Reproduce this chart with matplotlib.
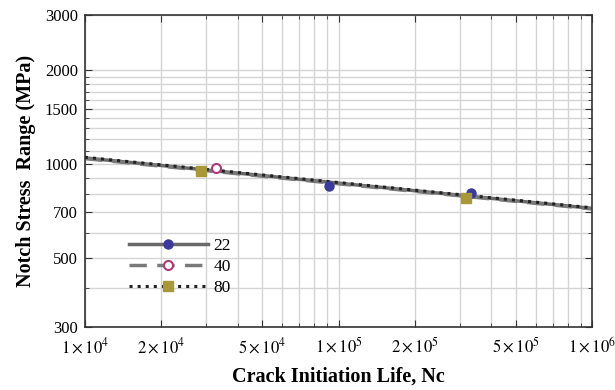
import matplotlib
matplotlib.use("Agg")
import matplotlib.pyplot as plt
from matplotlib.ticker import FixedLocator, FixedFormatter, NullFormatter
from matplotlib.lines import Line2D

# fitted S-N lines (start / end of plotted range)
fit_life = [1e4, 1e6]
fit_22 = [1045, 720]
fit_40 = [1040, 717]
fit_80 = [1050, 723]

# test points
life_22 = [91700, 333000]
stress_22 = [852, 804]
life_40 = [32900]
stress_40 = [970]
life_80 = [28700, 318000]
stress_80 = [948, 775]

x_major = [1e4, 2e4, 5e4, 1e5, 2e5, 5e5, 1e6]
x_labels = [r"$1\times10^{4}$", r"$2\times10^{4}$", r"$5\times10^{4}$",
            r"$1\times10^{5}$", r"$2\times10^{5}$", r"$5\times10^{5}$",
            r"$1\times10^{6}$"]
x_minor = [3e4, 4e4, 6e4, 7e4, 8e4, 9e4, 3e5, 4e5, 6e5, 7e5, 8e5, 9e5]
y_major = [300, 500, 700, 1000, 1500, 2000, 3000]
y_minor = [400, 600, 800, 900, 1100, 1200, 1300, 1400,
           1600, 1700, 1800, 1900]

plt.rcParams['font.family'] = ['Liberation Serif', 'DejaVu Serif']
plt.rcParams['mathtext.fontset'] = 'stix'

fig = plt.figure(figsize=(6.15, 3.9), dpi=100)
ax = fig.add_axes([0.138, 0.1615, 0.825, 0.8])

ax.plot(fit_life, fit_22, '-', color='#6a6a6a', lw=2.5)
ax.plot(fit_life, fit_40, '--', color='#7a7a7a', lw=2.5, dashes=(5, 3))
ax.plot(fit_life, fit_80, ':', color='#222222', lw=2.2)

ax.plot(life_22, stress_22, 'o', color='#3a3a9a', ms=6.5, ls='none')
ax.plot(life_40, stress_40, 'o', mfc='white', mec='#b03a78', mew=1.5, ms=6.5, ls='none')
ax.plot(life_80, stress_80, 's', color='#a8983a', ms=6.5, ls='none')

ax.set_xscale('log')
ax.set_yscale('log')
ax.set_xlim(1e4, 1e6)
ax.set_ylim(300, 3000)

ax.xaxis.set_major_locator(FixedLocator(x_major))
ax.xaxis.set_major_formatter(FixedFormatter(x_labels))
ax.xaxis.set_minor_locator(FixedLocator(x_minor))
ax.xaxis.set_minor_formatter(NullFormatter())
ax.yaxis.set_major_locator(FixedLocator(y_major))
ax.yaxis.set_major_formatter(FixedFormatter([str(v) for v in y_major]))
ax.yaxis.set_minor_locator(FixedLocator(y_minor))
ax.yaxis.set_minor_formatter(NullFormatter())

ax.grid(True, which='both', color='#d4d4d4', lw=1.0)
ax.set_axisbelow(True)
ax.tick_params(which='both', direction='in', top=True, right=True,
               labelsize=12, color='#333333')
ax.tick_params(axis='x', which='major', length=5, pad=7)
ax.tick_params(axis='y', which='major', length=5, pad=5)
ax.tick_params(which='minor', length=3)
for s in ax.spines.values():
    s.set_linewidth(1.2)
    s.set_color('#333333')

ax.set_xlabel('Crack Initiation Life, Nc', fontsize=14.5, fontweight='bold', labelpad=7)
ax.set_ylabel('Notch Stress  Range (MPa)', fontsize=14.5, fontweight='bold', labelpad=6)

handles = [
    Line2D([], [], ls='-', color='#6a6a6a', lw=2.5, marker='o', ms=6.5,
           mfc='#3a3a9a', mec='#3a3a9a'),
    Line2D([], [], ls='--', color='#7a7a7a', lw=2.5, dashes=(5, 3), marker='o', ms=6.5,
           mfc='white', mec='#b03a78', mew=1.5),
    Line2D([], [], ls=':', color='#222222', lw=2.2, marker='s', ms=6.5,
           mfc='#a8983a', mec='#a8983a'),
]
ax.legend(handles, ['22', '40', '80'], loc='upper left',
          bbox_to_anchor=(0.057, 0.335), frameon=False, fontsize=12.5,
          handlelength=4.5, handletextpad=0.35, labelspacing=0.27, numpoints=1)

fig.savefig('out.png', dpi=100)
